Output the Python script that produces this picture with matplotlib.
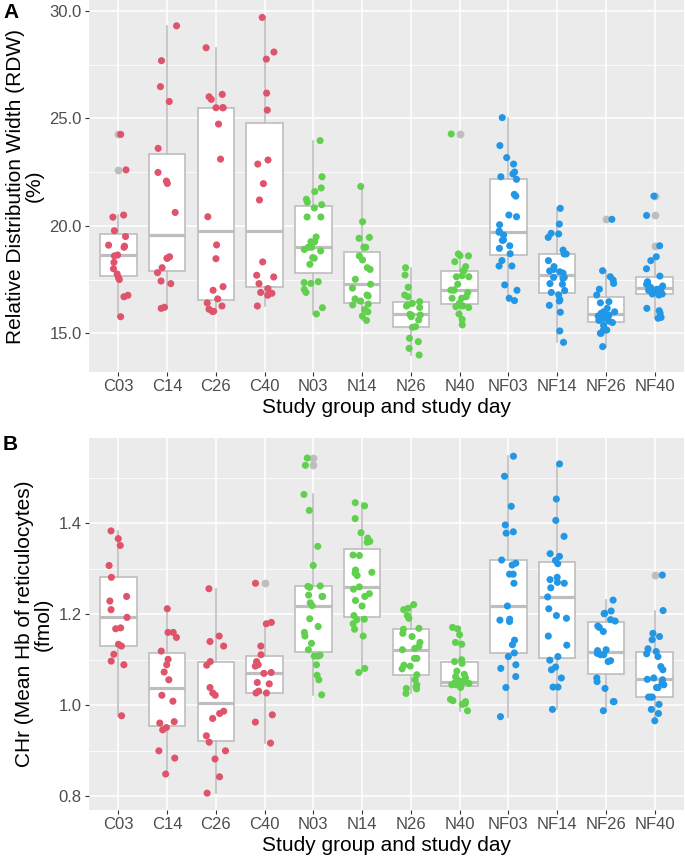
import numpy as np
import matplotlib
matplotlib.use("Agg")
import matplotlib.pyplot as plt
from matplotlib.ticker import FixedLocator, FixedFormatter

plt.rcParams['font.family'] = ['Liberation Sans', 'DejaVu Sans']

categories = ["C03", "C14", "C26", "C40", "N03", "N14", "N26", "N40",
              "NF03", "NF14", "NF26", "NF40"]
group_colors = ["#DF536B"] * 4 + ["#61D04F"] * 4 + ["#2297E6"] * 4

# ---- Panel A: RDW (%) ----
rdw_C03 = [24.25, 22.6, 20.5, 20.4, 19.77, 19.5, 19.1, 19.05, 19.0, 18.64, 18.6,
           18.3, 18.0, 17.76, 17.6, 17.5, 16.77, 16.7, 15.77]
rdw_C14 = [29.3, 27.68, 26.47, 25.78, 23.6, 22.48, 21.97, 22.08, 20.62, 18.56,
           18.49, 18.49, 18.05, 17.82, 17.43, 17.31, 16.16, 16.21]
rdw_C26 = [28.28, 26.11, 26.0, 25.88, 25.49, 25.49, 25.49, 24.73, 23.1, 20.42,
           19.11, 18.47, 17.17, 17.0, 16.6, 16.41, 16.02, 16.02, 16.12, 16.27]
rdw_C40 = [29.69, 28.08, 27.75, 26.17, 25.38, 23.06, 22.87, 21.96, 21.2, 18.32,
           17.7, 17.62, 17.31, 17.08, 16.9, 16.86, 16.77, 16.27]
rdw_N03 = [23.96, 22.28, 21.76, 21.59, 21.23, 21.1, 20.98, 20.83, 20.41, 20.41,
           19.48, 19.26, 19.26, 19.0, 19.0, 18.9, 18.83, 18.52, 18.49, 18.21,
           17.4, 17.36, 17.32, 17.04, 16.9, 16.19, 15.9]
rdw_N14 = [21.83, 20.19, 19.46, 19.42, 19.0, 19.0, 18.6, 18.41, 18.05, 17.97,
           17.51, 17.28, 17.1, 16.78, 16.74, 16.6, 16.5, 16.36, 16.32, 16.1,
           16.0, 15.8, 15.6]
rdw_N26 = [18.05, 17.71, 17.14, 16.78, 16.7, 16.47, 16.39, 16.32, 16.27, 16.2,
           15.88, 15.85, 15.85, 15.77, 15.62, 15.31, 15.28, 14.77, 14.61, 14.3, 13.99]
rdw_N40 = [24.27, 18.69, 18.61, 18.6, 18.33, 18.1, 17.91, 17.91, 17.68, 17.63,
           17.63, 17.28, 17.01, 17.01, 17.01, 16.9, 16.7, 16.63, 16.63, 16.39,
           16.3, 16.27, 16.24, 16.2, 15.9, 15.65, 15.39]
rdw_NF03 = [25.03, 23.73, 23.17, 22.87, 22.5, 22.41, 22.28, 22.16, 21.46, 21.38,
            20.5, 20.42, 20.05, 19.75, 19.7, 19.57, 19.34, 19.32, 19.07, 18.95,
            18.7, 18.38, 18.13, 18.13, 17.25, 17.0, 16.63, 16.52]
rdw_NF14 = [20.81, 20.08, 19.65, 19.62, 19.46, 18.87, 18.69, 18.69, 18.38, 18.1,
            17.97, 17.9, 17.86, 17.8, 17.6, 17.6, 17.55, 17.31, 17.28, 16.99,
            16.9, 16.79, 16.56, 16.5, 16.3, 15.98, 15.11, 14.58]
rdw_NF26 = [20.3, 17.91, 17.63, 17.48, 17.32, 17.05, 16.78, 16.47, 16.42, 16.16,
            16.0, 16.0, 15.93, 15.9, 15.85, 15.8, 15.7, 15.6, 15.57, 15.5,
            15.37, 15.15, 15.15, 15.0, 15.0, 14.38]
rdw_NF40 = [21.38, 20.48, 19.07, 18.56, 18.38, 18.0, 17.66, 17.4, 17.33, 17.33,
            17.28, 17.2, 17.14, 17.1, 17.09, 17.05, 17.0, 16.9, 16.83, 16.83,
            16.78, 16.16, 16.05, 15.93, 15.74, 15.7]

# ---- Panel B: CHr (fmol) ----
chr_C03 = [1.383, 1.366, 1.351, 1.307, 1.281, 1.239, 1.229, 1.21, 1.193, 1.17,
           1.168, 1.134, 1.13, 1.112, 1.097, 1.089, 0.977]
chr_C14 = [1.212, 1.16, 1.16, 1.149, 1.119, 1.101, 1.089, 1.073, 1.056, 1.022,
           1.009, 0.964, 0.961, 0.951, 0.946, 0.9, 0.884, 0.849]
chr_C26 = [1.256, 1.152, 1.14, 1.13, 1.096, 1.088, 1.039, 1.027, 1.022, 0.987,
           0.982, 0.971, 0.933, 0.919, 0.9, 0.882, 0.843, 0.807]
chr_C40 = [1.268, 1.182, 1.179, 1.13, 1.111, 1.096, 1.089, 1.086, 1.072, 1.07,
           1.05, 1.047, 1.031, 1.027, 1.027, 0.979, 0.963, 0.917]
chr_N03 = [1.543, 1.527, 1.463, 1.428, 1.349, 1.307, 1.262, 1.261, 1.259, 1.242,
           1.239, 1.239, 1.225, 1.219, 1.19, 1.173, 1.16, 1.152, 1.136, 1.122,
           1.11, 1.108, 1.108, 1.089, 1.066, 1.056, 1.023]
chr_N14 = [1.445, 1.438, 1.41, 1.379, 1.367, 1.36, 1.358, 1.33, 1.329, 1.297,
           1.292, 1.29, 1.285, 1.26, 1.255, 1.245, 1.239, 1.23, 1.218, 1.197,
           1.189, 1.188, 1.179, 1.167, 1.152, 1.081, 1.072]
chr_N26 = [1.221, 1.213, 1.21, 1.197, 1.191, 1.169, 1.167, 1.158, 1.151, 1.138,
           1.129, 1.125, 1.122, 1.103, 1.103, 1.088, 1.086, 1.08, 1.067, 1.056,
           1.045, 1.041, 1.037, 1.036, 1.026]
chr_N40 = [1.171, 1.168, 1.155, 1.138, 1.134, 1.1, 1.096, 1.092, 1.075, 1.068,
           1.063, 1.06, 1.055, 1.052, 1.05, 1.05, 1.05, 1.048, 1.045, 1.045,
           1.039, 1.013, 1.01, 1.008, 1.004, 1.002, 0.988]
chr_NF03 = [1.547, 1.503, 1.437, 1.396, 1.381, 1.378, 1.319, 1.312, 1.308, 1.288,
            1.288, 1.268, 1.218, 1.189, 1.187, 1.184, 1.143, 1.133, 1.115, 1.107,
            1.089, 1.081, 1.063, 1.039, 0.975]
chr_NF14 = [1.53, 1.453, 1.406, 1.371, 1.333, 1.327, 1.318, 1.311, 1.281, 1.276,
            1.27, 1.268, 1.258, 1.238, 1.212, 1.197, 1.191, 1.152, 1.132, 1.107,
            1.099, 1.084, 1.078, 1.06, 1.04, 1.04, 0.991]
chr_NF26 = [1.231, 1.207, 1.202, 1.201, 1.188, 1.185, 1.174, 1.171, 1.162, 1.122,
            1.12, 1.114, 1.111, 1.111, 1.098, 1.096, 1.06, 1.052, 1.037, 1.008,
            1.008, 0.988]
chr_NF40 = [1.286, 1.208, 1.158, 1.151, 1.144, 1.124, 1.118, 1.113, 1.107, 1.085,
            1.078, 1.06, 1.057, 1.056, 1.048, 1.045, 1.039, 1.039, 1.018, 1.018,
            1.018, 1.002, 0.991, 0.982, 0.966]

rdw_values = [rdw_C03, rdw_C14, rdw_C26, rdw_C40, rdw_N03, rdw_N14, rdw_N26,
              rdw_N40, rdw_NF03, rdw_NF14, rdw_NF26, rdw_NF40]
chr_values = [chr_C03, chr_C14, chr_C26, chr_C40, chr_N03, chr_N14, chr_N26,
              chr_N40, chr_NF03, chr_NF14, chr_NF26, chr_NF40]

rdw_ticks = [15.0, 20.0, 25.0, 30.0]
rdw_tick_labels = ["15.0", "20.0", "25.0", "30.0"]
chr_ticks = [0.8, 1.0, 1.2, 1.4]
chr_tick_labels = ["0.8", "1.0", "1.2", "1.4"]

W, H = 685, 860
fig = plt.figure(figsize=(W / 100, H / 100), dpi=100)


def rect(left, top, right, bottom):
    return [left / W, 1 - bottom / H, (right - left) / W, (bottom - top) / H]


axA = fig.add_axes(rect(89, 0, 684, 372))
axB = fig.add_axes(rect(89, 438, 684, 810))

BOX_GRAY = "#BEBEBE"


def draw(ax, data, ylim, ticks, tick_labels, ylabel, seed):
    ax.set_facecolor("#EBEBEB")
    pos = np.arange(len(categories))
    ax.boxplot(data, positions=pos, widths=0.75, patch_artist=True, whis=1.5,
               showcaps=False,
               boxprops=dict(facecolor="white", edgecolor=BOX_GRAY, linewidth=1.2),
               medianprops=dict(color=BOX_GRAY, linewidth=2.3),
               whiskerprops=dict(color=BOX_GRAY, linewidth=1.2),
               flierprops=dict(marker="o", markerfacecolor=BOX_GRAY,
                               markeredgecolor="none", markersize=5.6),
               zorder=2)
    rng = np.random.default_rng(seed)
    for i, vals in enumerate(data):
        xj = pos[i] + rng.uniform(-0.2, 0.2, len(vals))
        ax.scatter(xj, vals, s=26, color=group_colors[i], edgecolors="none",
                   zorder=3)
    ax.set_xlim(-0.6, len(categories) - 0.4)
    ax.set_ylim(*ylim)
    ax.set_xticks(pos)
    ax.set_xticklabels(categories)
    ax.yaxis.set_major_locator(FixedLocator(ticks))
    ax.yaxis.set_major_formatter(FixedFormatter(tick_labels))
    minor = [(a + b) / 2 for a, b in zip(ticks[:-1], ticks[1:])]
    lo, hi = ylim
    step = ticks[1] - ticks[0]
    if ticks[0] - step / 2 > lo:
        minor = [ticks[0] - step / 2] + minor
    if ticks[-1] + step / 2 < hi:
        minor = minor + [ticks[-1] + step / 2]
    ax.yaxis.set_minor_locator(FixedLocator(minor))
    ax.set_axisbelow(True)
    ax.grid(which="major", color="white", linewidth=1.1)
    ax.grid(which="minor", axis="y", color="white", linewidth=0.55)
    for s in ax.spines.values():
        s.set_visible(False)
    ax.tick_params(which="major", length=3.2, width=0.8, color="#333333",
                   labelsize=12, labelcolor="#4D4D4D", pad=2)
    ax.tick_params(which="minor", length=0)
    ax.set_xlabel("Study group and study day", fontsize=15, color="black",
                  labelpad=3)
    ax.set_ylabel(ylabel, fontsize=15, color="black", labelpad=4,
                  linespacing=1.0)


draw(axA, rdw_values, (13.2, 30.5), rdw_ticks, rdw_tick_labels,
     "Relative Distribution Width (RDW)\n(%)", 7)
draw(axB, chr_values, (0.77, 1.587), chr_ticks, chr_tick_labels,
     "CHr (Mean Hb of reticulocytes)\n(fmol)", 11)

fig.text(3 / W, 1 - 3 / H, "A", fontsize=15, fontweight="bold", va="top",
         ha="left")
fig.text(3 / W, 1 - 435 / H, "B", fontsize=15, fontweight="bold", va="top",
         ha="left")

fig.savefig("out.png", dpi=100)
